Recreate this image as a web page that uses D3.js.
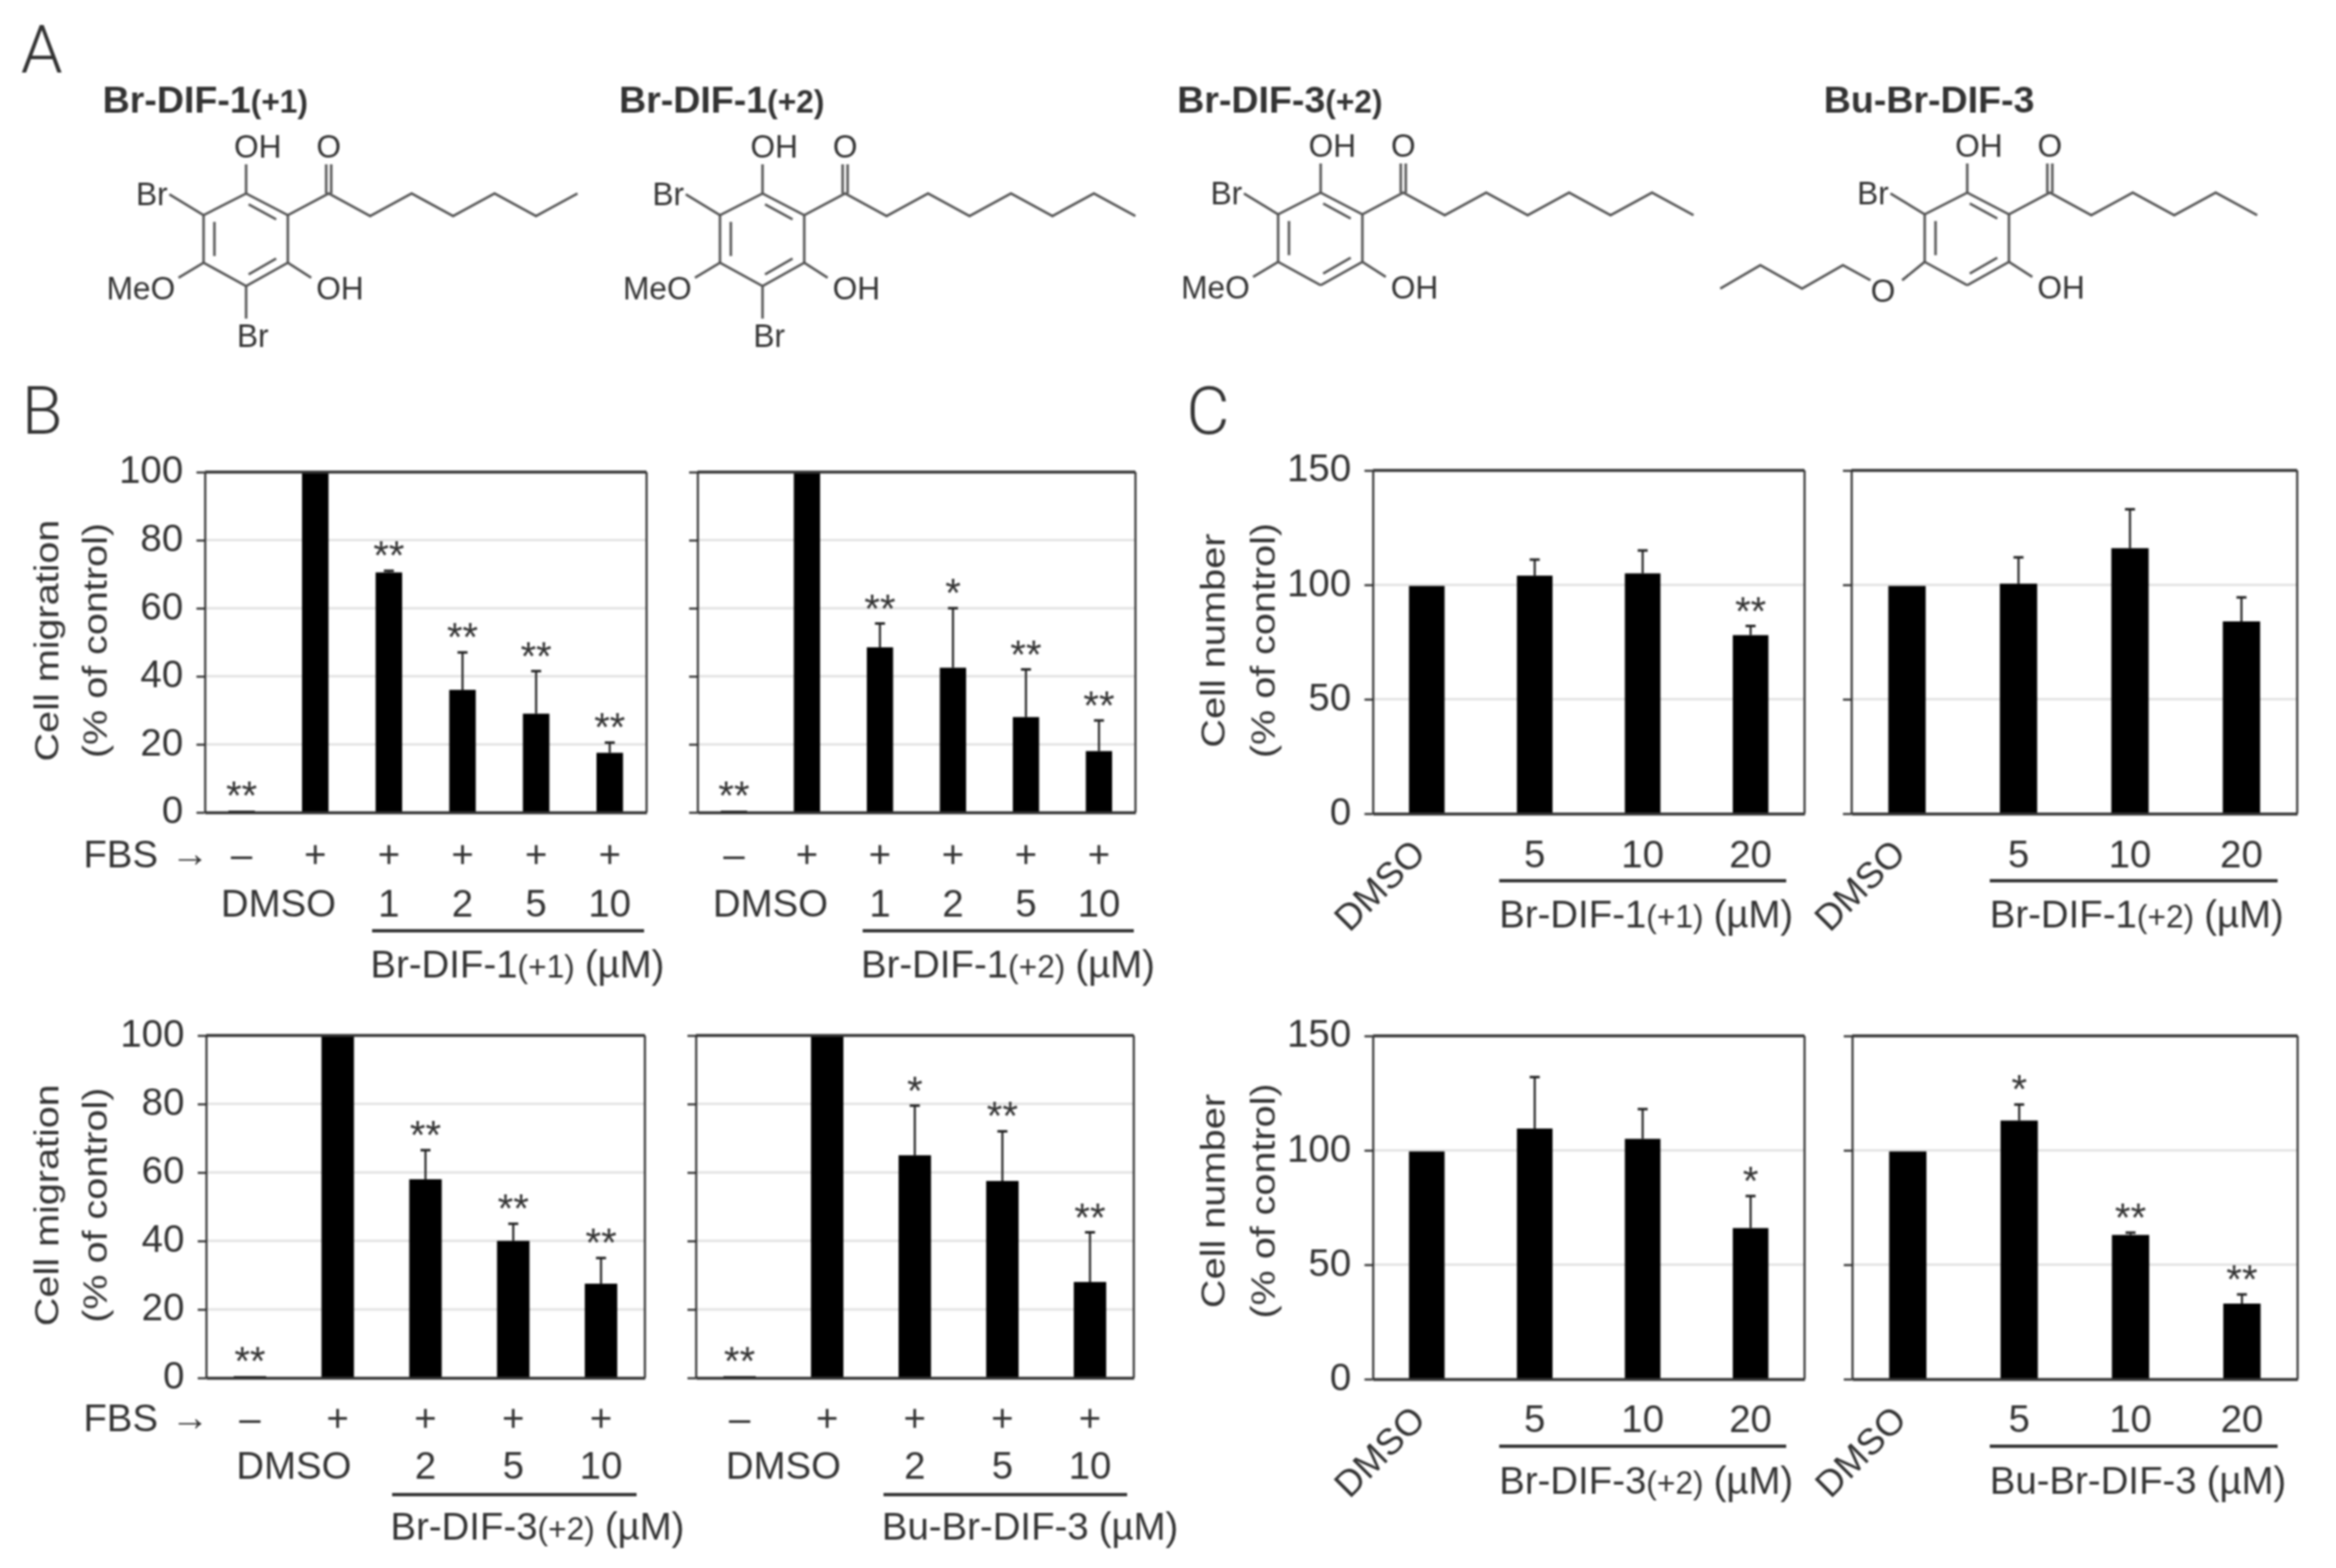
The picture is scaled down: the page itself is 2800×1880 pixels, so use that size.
<!DOCTYPE html>
<html>
<head>
<meta charset="utf-8">
<script src="https://d3js.org/d3.v7.min.js"></script>
<style>
  body { margin: 0; background: #fff; }
  /* the reference is a soft, upscaled scan */
  svg { display: block; filter: blur(1.3px); }
  text { font-family: "Liberation Sans", Arial, sans-serif; fill: #333; }
</style>
</head>
<body>
<script>
// ---- chart values ----
const migrationTicks = [0, 20, 40, 60, 80, 100];
const cellTicks = [0, 50, 100, 150];

const b1Doses = ["none", "dmso", "1", "2", "5", "10"];
const b1Values = [0.5, 100, 70.5, 36, 29, 17.5];
const b1ErrTop = [null, null, 71, 47, 41.5, 20.5];
const b1Stars = ["**", "", "**", "**", "**", "**"];

const b2Doses = ["none", "dmso", "1", "2", "5", "10"];
const b2Values = [0.5, 100, 48.5, 42.5, 28, 18];
const b2ErrTop = [null, null, 55.5, 60, 42, 27];
const b2Stars = ["**", "", "**", "*", "**", "**"];

const b3Doses = ["none", "dmso", "2", "5", "10"];
const b3Values = [0.5, 100, 58, 40, 27.5];
const b3ErrTop = [null, null, 66.5, 45, 35];
const b3Stars = ["**", "", "**", "**", "**"];

const b4Doses = ["none", "dmso", "2", "5", "10"];
const b4Values = [0.5, 100, 65, 57.5, 28];
const b4ErrTop = [null, null, 79.5, 72, 42.5];
const b4Stars = ["**", "", "*", "**", "**"];

const c1Doses = ["DMSO", "5", "10", "20"];
const c1Values = [99.5, 104, 105, 78];
const c1ErrTop = [null, 111, 115, 82];
const c1Stars = ["", "", "", "**"];

const c2Doses = ["DMSO", "5", "10", "20"];
const c2Values = [99.5, 100.5, 116, 84];
const c2ErrTop = [null, 112, 133, 94.5];
const c2Stars = ["", "", "", ""];

const c3Doses = ["DMSO", "5", "10", "20"];
const c3Values = [99.5, 109.5, 105, 66];
const c3ErrTop = [null, 132, 118, 80];
const c3Stars = ["", "", "", "*"];

const c4Doses = ["DMSO", "5", "10", "20"];
const c4Values = [99.5, 113, 63, 33];
const c4ErrTop = [null, 120, 64, 37];
const c4Stars = ["", "*", "**", "**"];

const fbsSigns = { none: "–" };  // every other column is "+"

const svg = d3.select("body").append("svg")
  .attr("width", 2800)
  .attr("height", 1880);

const ink = "#333";

// plain text helper, returns the selection
function label(x, y, str, size, anchor) {
  return svg.append("text")
    .attr("x", x).attr("y", y)
    .attr("font-size", size)
    .attr("text-anchor", anchor || "start")
    .text(str);
}

// panel letters
[["A", 25, 87], ["B", 26, 520], ["C", 1422, 520]].forEach(d => {
  label(d[1], d[2], d[0], 80).style("font-family", "Roboto").attr("font-weight", 300);
});

// ---- panel A, structures ----
const ringBonds = [[[0, 0], [50, 26]], [[50, 26], [50, 83]], [[50, 83], [0, 111]],
  [[0, 111], [-51, 83]], [[-51, 83], [-51, 26]], [[-51, 26], [0, 0]]];
const innerBonds = [[[3, 13], [36, 31]], [[-38, 34], [-38, 75]], [[36, 78], [3, 97]]];

function structure(ox, oy, chainLength, title, sub, hasBottomBr, hasButyl) {
  const line = d3.line();
  const g = svg.append("g").attr("transform", `translate(${ox},${oy})`)
    .attr("fill", "none").attr("stroke", "#555").attr("stroke-width", 3);
  ringBonds.concat(innerBonds).forEach(b => g.append("path").attr("d", line(b)));

  // side chain zig-zag from the carbonyl carbon
  const chain = [[50, 26], [99, 0]];
  for (let i = 1; i <= chainLength; i++) chain.push([99 + i * 49.7, i % 2 ? 27 : 0]);
  g.append("path").attr("d", line(chain));
  g.append("path").attr("d", line([[96, 0], [96, -35]]));
  g.append("path").attr("d", line([[102, 0], [102, -35]]));

  g.append("path").attr("d", line([[0, 0], [0, -35]]));
  g.append("path").attr("d", line([[-51, 26], [-92, 1]]));
  g.append("path").attr("d", line([[50, 83], [78, 101]]));

  const tx = (dx, dy, s, a) => label(ox + dx, oy + dy, s, 38, a);
  tx(14, -43, "OH", "middle");
  tx(99, -43, "O", "middle");
  tx(-94, 14, "Br", "end");
  tx(84, 127, "OH");

  if (hasButyl) {
    g.append("path").attr("d", line([[-51, 83], [-78, 105]]));
    g.append("path").attr("d", line([[-116, 105], [-149, 87], [-198, 115], [-248, 87], [-296, 115]]));
    tx(-101, 131, "O", "middle");
  } else {
    g.append("path").attr("d", line([[-51, 83], [-81, 101]]));
    tx(-85, 127, "MeO", "end");
  }
  if (hasBottomBr) {
    g.append("path").attr("d", line([[0, 111], [0, 150]]));
    tx(-11, 184, "Br");
  }

  const t = label(ox - 172, 135, title, 45).attr("font-weight", "bold");
  if (sub) t.append("tspan").attr("font-size", 38).text(sub);
}

structure(295, 232, 6, "Br-DIF-1", "(+1)", true, false);
structure(914, 232, 7, "Br-DIF-1", "(+2)", true, false);
structure(1583, 231, 7, "Br-DIF-3", "(+2)", false, false);
structure(2358, 231, 5, "Bu-Br-DIF-3", "", false, true);

// ---- bar panels ----
function barPanel(p) {
  const x = d3.scaleBand().domain(p.doses)
    .range([p.left, p.right])
    .paddingInner(p.pad).paddingOuter(p.pad / 2);
  const y = d3.scaleLinear().domain([0, p.ticks[p.ticks.length - 1]])
    .range([p.bottom, p.top]);
  const rows = p.doses.map((d, i) => ({ dose: d, value: p.values[i], err: p.errTop[i], star: p.stars[i] }));
  const g = svg.append("g");

  // light gridlines
  g.selectAll(".grid")
    .data(p.ticks.slice(1, -1))
    .enter().append("line")
    .attr("x1", p.left).attr("x2", p.right)
    .attr("y1", d => y(d)).attr("y2", d => y(d))
    .attr("stroke", "#e4e4e4").attr("stroke-width", 3);

  g.selectAll(".bar")
    .data(rows)
    .enter().append("rect")
    .attr("class", "bar")
    .attr("x", d => x(d.dose))
    .attr("width", x.bandwidth())
    .attr("y", d => y(d.value))
    .attr("height", d => y(0) - y(d.value))
    .attr("fill", "#000");

  const withErr = rows.filter(d => d.err !== null);
  g.selectAll(".err")
    .data(withErr)
    .enter().append("line")
    .attr("x1", d => x(d.dose) + x.bandwidth() / 2)
    .attr("x2", d => x(d.dose) + x.bandwidth() / 2)
    .attr("y1", d => y(d.value)).attr("y2", d => y(d.err))
    .attr("stroke", "#222").attr("stroke-width", 2.5);
  g.selectAll(".cap")
    .data(withErr)
    .enter().append("line")
    .attr("x1", d => x(d.dose) + x.bandwidth() / 2 - 6)
    .attr("x2", d => x(d.dose) + x.bandwidth() / 2 + 6)
    .attr("y1", d => y(d.err)).attr("y2", d => y(d.err))
    .attr("stroke", "#222").attr("stroke-width", 3);

  // significance marks sit a fixed distance above the error bar
  g.selectAll(".star")
    .data(rows.filter(d => d.star))
    .enter().append("text")
    .attr("x", d => x(d.dose) + x.bandwidth() / 2)
    .attr("y", d => y(d.err === null ? d.value : d.err) - 2)
    .attr("text-anchor", "middle")
    .attr("font-size", 48)
    .text(d => d.star);

  // frame
  const yAxis = d3.axisLeft(y).tickValues(p.ticks).tickSize(10).tickPadding(16).tickSizeOuter(0)
    .tickFormat(p.showLabels ? d3.format("d") : "");
  const ax = g.append("g").attr("transform", `translate(${p.left},0)`).call(yAxis);
  ax.selectAll("line").attr("stroke", ink).attr("stroke-width", 2.5);
  ax.select(".domain").attr("stroke", ink).attr("stroke-width", 2.5);
  ax.selectAll("text").attr("font-size", 46).attr("fill", "#333").attr("dy", "0.28em")
    .style("font-family", '"Liberation Sans", Arial, sans-serif');

  const xAxis = d3.axisBottom(x).tickSize(0).tickFormat("");
  const bx = g.append("g").attr("transform", `translate(0,${p.bottom})`).call(xAxis);
  bx.select(".domain").attr("stroke", ink).attr("stroke-width", 3.5);

  g.append("line").attr("x1", p.left).attr("x2", p.right).attr("y1", p.top).attr("y2", p.top)
    .attr("stroke", ink).attr("stroke-width", 3.5);
  g.append("line").attr("x1", p.right).attr("x2", p.right).attr("y1", p.top).attr("y2", p.bottom)
    .attr("stroke", ink).attr("stroke-width", 2.5);

  return x;
}

function compoundLabel(x0, baseline, name, sub) {
  const t = label(x0, baseline, name, 46);
  if (sub) t.append("tspan").attr("font-size", 38).text(sub);
  t.append("tspan").attr("dx", 12).text("(µM)");
}

function underline(x0, x1, yy) {
  svg.append("line").attr("x1", x0).attr("x2", x1).attr("y1", yy).attr("y2", yy)
    .attr("stroke", ink).attr("stroke-width", 4);
}

function axisTitle(xFirst, xSecond, cy, first, firstLen) {
  [[xFirst, first, firstLen], [xSecond, "(% of control)", 282]].forEach(d => {
    svg.append("text")
      .attr("transform", `translate(${d[0]},${cy}) rotate(-90)`)
      .attr("text-anchor", "middle")
      .attr("font-size", 40)
      .attr("textLength", d[2])
      .attr("lengthAdjust", "spacingAndGlyphs")
      .text(d[1]);
  });
}

function migrationPanel(p, row) {
  const x = barPanel(Object.assign({ ticks: migrationTicks }, p));
  const mid = d => x(d) + x.bandwidth() / 2;
  p.doses.forEach(d => label(mid(d), row.fbs + 16, fbsSigns[d] || "+", 46, "middle"));
  label((mid("none") + mid("dmso")) / 2, row.dose, "DMSO", 46, "middle");
  p.doses.slice(2).forEach(d => label(mid(d), row.dose, d, 46, "middle"));
  underline(p.lineFrom, p.lineTo, row.line);
  compoundLabel(p.lineFrom - 2, row.compound, p.name, p.sub);
}

function cellPanel(p, row) {
  const x = barPanel(Object.assign({ ticks: cellTicks }, p));
  const mid = d => x(d) + x.bandwidth() / 2;
  svg.append("text")
    .attr("transform", `translate(${mid("DMSO") - 46},${row.dmso}) rotate(-45)`)
    .attr("text-anchor", "middle").attr("font-size", 44).text("DMSO");
  p.doses.slice(1).forEach(d => label(mid(d), row.dose, d, 46, "middle"));
  underline(p.lineFrom, p.lineTo, row.line);
  compoundLabel(p.lineFrom, row.compound, p.name, p.sub);
}

// ---- panel B ----
const bRow1 = { fbs: 1024, dose: 1099, line: 1116, compound: 1172 };
const bRow2 = { fbs: 1700, dose: 1773, line: 1792, compound: 1846 };

migrationPanel({ left: 245.5, right: 775, top: 566, bottom: 974, pad: 0.64, showLabels: true,
  doses: b1Doses, values: b1Values, errTop: b1ErrTop, stars: b1Stars,
  lineFrom: 446, lineTo: 772, name: "Br-DIF-1", sub: "(+1)" }, bRow1);
migrationPanel({ left: 836, right: 1361, top: 566, bottom: 974, pad: 0.64, showLabels: false,
  doses: b2Doses, values: b2Values, errTop: b2ErrTop, stars: b2Stars,
  lineFrom: 1034, lineTo: 1359, name: "Br-DIF-1", sub: "(+2)" }, bRow1);
migrationPanel({ left: 247, right: 773, top: 1241.5, bottom: 1652, pad: 0.63, showLabels: true,
  doses: b3Doses, values: b3Values, errTop: b3ErrTop, stars: b3Stars,
  lineFrom: 470, lineTo: 763, name: "Br-DIF-3", sub: "(+2)" }, bRow2);
migrationPanel({ left: 834, right: 1359, top: 1241.5, bottom: 1652, pad: 0.63, showLabels: false,
  doses: b4Doses, values: b4Values, errTop: b4ErrTop, stars: b4Stars,
  lineFrom: 1059, lineTo: 1351, name: "Bu-Br-DIF-3", sub: "" }, bRow2);

[[1040, bRow1], [1716, bRow2]].forEach(d => {
  label(100, d[0], "FBS", 46);
  label(205, d[0] - 1, "→", 46);
});

axisTitle(70, 128, 768, "Cell migration", 290);
axisTitle(70, 128, 1445, "Cell migration", 290);

// ---- panel C ----
const cRow1 = { dmso: 1072, dose: 1040, line: 1056, compound: 1112 };
const cRow2 = { dmso: 1751, dose: 1717, line: 1734, compound: 1791 };

cellPanel({ left: 1645.5, right: 2163, top: 564, bottom: 975.5, pad: 0.67, showLabels: true,
  doses: c1Doses, values: c1Values, errTop: c1ErrTop, stars: c1Stars,
  lineFrom: 1797, lineTo: 2141, name: "Br-DIF-1", sub: "(+1)" }, cRow1);
cellPanel({ left: 2219, right: 2753.5, top: 564, bottom: 975.5, pad: 0.665, showLabels: false,
  doses: c2Doses, values: c2Values, errTop: c2ErrTop, stars: c2Stars,
  lineFrom: 2385, lineTo: 2730, name: "Br-DIF-1", sub: "(+2)" }, cRow1);
cellPanel({ left: 1645.5, right: 2163, top: 1242, bottom: 1653.5, pad: 0.67, showLabels: true,
  doses: c3Doses, values: c3Values, errTop: c3ErrTop, stars: c3Stars,
  lineFrom: 1797, lineTo: 2141, name: "Br-DIF-3", sub: "(+2)" }, cRow2);
cellPanel({ left: 2220, right: 2754, top: 1242, bottom: 1653.5, pad: 0.665, showLabels: false,
  doses: c4Doses, values: c4Values, errTop: c4ErrTop, stars: c4Stars,
  lineFrom: 2385, lineTo: 2730, name: "Bu-Br-DIF-3", sub: "" }, cRow2);

axisTitle(1468, 1528, 768, "Cell number", 257);
axisTitle(1468, 1528, 1440, "Cell number", 257);
</script>
</body>
</html>
